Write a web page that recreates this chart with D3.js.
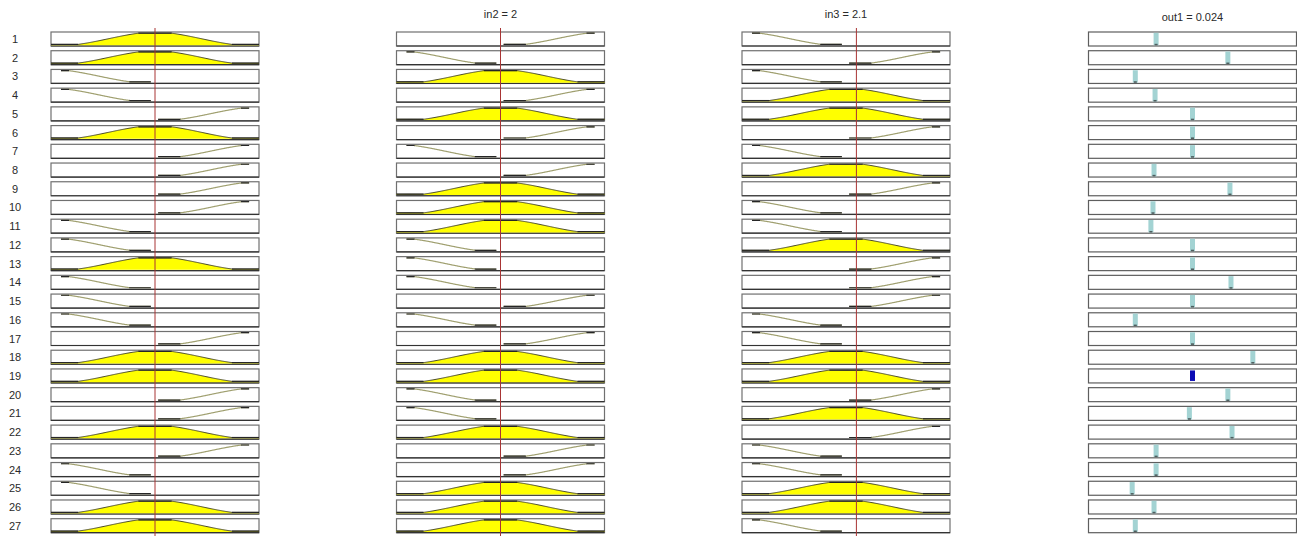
<!DOCTYPE html>
<html>
<head>
<meta charset="utf-8">
<script src="https://cdn.jsdelivr.net/npm/d3@7"></script>
<style>
  html, body { margin: 0; padding: 0; background: #ffffff; }
  svg { display: block; }
  text { font-family: "Liberation Sans", Arial, sans-serif; fill: #2a2a2a; }
</style>
</head>
<body>
<svg id="chart" width="1297" height="536"></svg>
<script>
// Fuzzy rule viewer: 27 rules, three inputs (in1, in2, in3) and one Sugeno output.
const ruleIds = d3.range(1, 28);

// Membership function used by each rule for every input (L = low, M = medium, H = high)
const in1Terms = ["M","M","L","L","H","M","H","H","H","H","L","L","M","L","L","L","H","M","M","H","H","M","H","L","L","M","M"];
const in2Terms = ["H","L","M","H","M","H","L","H","M","M","M","L","L","L","H","L","H","M","M","L","L","M","H","H","M","M","M"];
const in3Terms = ["L","H","L","M","M","H","L","M","H","L","L","M","H","H","H","L","L","M","M","H","M","H","L","L","M","M","L"];

// Output constant of each rule
const outValues = [-0.35, 0.34, -0.55, -0.36, 0.00, 0.00, 0.00, -0.37, 0.36, -0.38,
                   -0.40, 0.00, 0.00, 0.37, 0.00, -0.55, 0.00, 0.58, 0.00, 0.34,
                   -0.03, 0.38, -0.35, -0.35, -0.58, -0.37, -0.55];
const firedRule = 19;

// Current inputs and the resulting output
const inputNames = ["in1", "in2", "in3"];
const inputValues = [2, 2, 2.1];
const showInputTitle = [false, true, true];
const outputName = "out1";
const outputValue = 0.024;

// Universe of discourse of inputs and output
const inputRange = [1, 3];
const outputRange = [-1, 1];

// Breakpoints of the membership functions, in input units
const lowPts  = [1.096, 1.17, 1.76, 1.96];   // top start, top end, reaches zero, drawn until
const midPts  = [1.0, 1.26, 1.84, 2.16, 2.74, 3.0];
const highPts = [2.03, 2.24, 2.83, 2.905];

// ---------------------------------------------------------------------------
const svg = d3.select("#chart");
const colX = [51, 396.5, 742, 1088.5];
const colW = 208;

const y = d3.scaleBand().domain(ruleIds).range([32, 532.7]).paddingInner(0.252).paddingOuter(0);

const ease = t => 0.75 * t + 0.25 * (0.5 - 0.5 * Math.cos(Math.PI * t));

function mfValue(term, v) {
  if (term === "L") {
    const [, b, c] = lowPts;
    if (v <= b) return 1;
    if (v >= c) return 0;
    return 1 - ease((v - b) / (c - b));
  }
  if (term === "H") {
    const [, b, c] = highPts;
    if (v <= b) return 0;
    if (v >= c) return 1;
    return ease((v - b) / (c - b));
  }
  const [, a, b, c, d] = midPts;
  if (v <= a || v >= d) return 0;
  if (v < b) return ease((v - a) / (b - a));
  if (v > c) return 1 - ease((v - c) / (d - c));
  return 1;
}

function mfDomain(term) {
  if (term === "L") return [lowPts[0], lowPts[3]];
  if (term === "H") return [highPts[0], highPts[3]];
  return [midPts[0], midPts[5]];
}

const termLists = [in1Terms, in2Terms, in3Terms];

termLists.forEach((terms, ci) => {
  const x = d3.scaleLinear().domain(inputRange).range([colX[ci], colX[ci] + colW]);
  const g = svg.append("g");

  ruleIds.forEach((r, ri) => {
    const top = y(r), bot = top + y.bandwidth();
    const yv = d3.scaleLinear().domain([0, 1]).range([bot - 1.6, top + 1.2]);
    const term = terms[ri];
    const [d0, d1] = mfDomain(term);
    const pts = d3.range(0, 201).map(i => {
      const v = d0 + (d1 - d0) * i / 200;
      return [v, mfValue(term, v)];
    });
    const fired = mfValue(term, inputValues[ci]) > 0;

    // panel frame
    g.append("rect")
      .attr("x", colX[ci]).attr("y", top)
      .attr("width", colW).attr("height", y.bandwidth())
      .attr("fill", "#ffffff").attr("stroke", "#707070").attr("stroke-width", 1.2);
    g.append("line")
      .attr("x1", colX[ci]).attr("x2", colX[ci] + colW)
      .attr("y1", bot).attr("y2", bot)
      .attr("stroke", "#333333").attr("stroke-width", 1.2);

    if (fired) {
      const area = d3.area().x(d => x(d[0])).y0(bot - 0.8).y1(d => yv(d[1]));
      g.append("path").datum(pts).attr("d", area).attr("fill", "#ffff00");
    }

    const line = d3.line().x(d => x(d[0])).y(d => yv(d[1]));
    g.append("path").datum(pts).attr("d", line)
      .attr("fill", "none")
      .attr("stroke", fired ? "#4a4a28" : "#a0a070")
      .attr("stroke-width", fired ? 1.0 : 1.2);

    // flat stretches of the curve read darker
    const flatRuns = [];
    let run = [];
    pts.forEach(p => {
      if (p[1] < 0.01 || p[1] > 0.99) run.push(p);
      else { if (run.length > 1) flatRuns.push(run); run = []; }
    });
    if (run.length > 1) flatRuns.push(run);
    flatRuns.forEach(seg => {
      g.append("path").datum(seg).attr("d", line)
        .attr("fill", "none").attr("stroke", "#262626").attr("stroke-width", 1.2);
    });
  });

  // current input value
  g.append("line")
    .attr("x1", x(inputValues[ci])).attr("x2", x(inputValues[ci]))
    .attr("y1", 28).attr("y2", 536)
    .attr("stroke", "#a83434").attr("stroke-width", 1);

  if (showInputTitle[ci]) {
    svg.append("text")
      .attr("x", colX[ci] + colW / 2).attr("y", 18)
      .attr("text-anchor", "middle").attr("font-size", 11)
      .text(`${inputNames[ci]} = ${inputValues[ci]}`);
  }
});

// output column
const xo = d3.scaleLinear().domain(outputRange).range([colX[3], colX[3] + colW]);
const go = svg.append("g");
ruleIds.forEach((r, ri) => {
  const top = y(r), bot = top + y.bandwidth();
  go.append("rect")
    .attr("x", colX[3]).attr("y", top)
    .attr("width", colW).attr("height", y.bandwidth())
    .attr("fill", "#ffffff").attr("stroke", "#5e5e5e").attr("stroke-width", 1.2);
  const cx = xo(outValues[ri]);
  if (r === firedRule) {
    go.append("rect")
      .attr("x", cx - 2.5).attr("y", top + 1.5)
      .attr("width", 5).attr("height", y.bandwidth() - 3.5)
      .attr("fill", "#0b0bb5");
  } else {
    go.append("rect")
      .attr("x", cx - 2.5).attr("y", top + 0.8)
      .attr("width", 5).attr("height", y.bandwidth() - 1.6)
      .attr("fill", "#a3d3d3");
    go.append("rect")
      .attr("x", cx - 1.5).attr("y", bot - 2.2)
      .attr("width", 3).attr("height", 1.6)
      .attr("fill", "#4f5f60");
  }
});
svg.append("text")
  .attr("x", colX[3] + colW / 2).attr("y", 21)
  .attr("text-anchor", "middle").attr("font-size", 11)
  .text(`${outputName} = ${outputValue}`);

// rule numbers
svg.append("g").selectAll("text").data(ruleIds).join("text")
  .attr("x", 15).attr("y", d => y(d) + y.bandwidth() / 2 + 4)
  .attr("text-anchor", "middle").attr("font-size", 11)
  .text(d => d);
</script>
</body>
</html>
